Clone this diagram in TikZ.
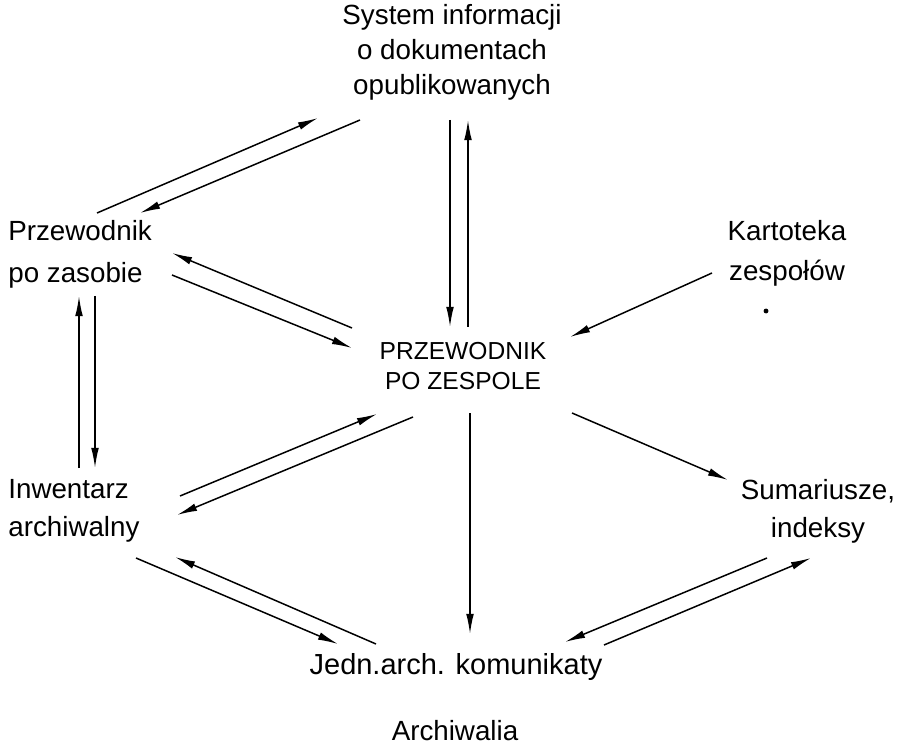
\documentclass[tikz,border=0pt]{standalone}
\usepackage{fontspec}
\setmainfont{Liberation Sans}
\usetikzlibrary{arrows.meta}

\begin{document}
\begin{tikzpicture}[x=0.02cm, y=-0.02cm,
  lbl/.style = {inner sep=0pt, align=center, font=\fontsize{15.8}{20}\selectfont},
  arr/.style = {line width=0.85pt, -{Latex[length=11.5pt,width=4.4pt]}}]
\useasboundingbox (0,0) rectangle (916,746);
% nodes
\node[lbl] (sys) at (452,52) {System informacji\\o dokumentach\\opublikowanych};
\node[lbl, align=left, anchor=west] (zas) at (8,254) {Przewodnik\\[3.8pt]po zasobie};
\node[lbl] (kart) at (787,253) {Kartoteka\\[2.7pt]zespołów};
\node[lbl, font=\fontsize{14}{17.6}\selectfont] (prz) at (463,366) {PRZEWODNIK\\PO ZESPOLE};
\node[lbl, align=left, anchor=west] (inw) at (8,511) {Inwentarz\\[1.5pt]archiwalny};
\node[lbl] (sum) at (818,511) {Sumariusze,\\[1.5pt]indeksy};
\node[lbl, font=\fontsize{16.5}{20}\selectfont] (jedn) at (456,667) {Jedn.arch. komunikaty};
\node[lbl] (arch) at (455,731) {Archiwalia};
\fill (766,311) circle (1.4pt);
% arrows
\draw[arr] ([shift={(-92,68)}]sys.center) -- ([shift={(132,-41)}]zas.west);
\draw[arr] ([shift={(89,-41)}]zas.west) -- ([shift={(-134,66)}]sys.center);
\draw[arr] ([shift={(-2,68)}]sys.center) -- ([shift={(-13,-39)}]prz.center);
\draw[arr] ([shift={(5,-39)}]prz.center) -- ([shift={(16,68)}]sys.center);
\draw[arr] ([shift={(-111,-38)}]prz.center) -- ([shift={(164,-1)}]zas.west);
\draw[arr] ([shift={(164,21)}]zas.west) -- ([shift={(-111,-18)}]prz.center);
\draw[arr] ([shift={(-75,20)}]kart.center) -- ([shift={(107,-29)}]prz.center);
\draw[arr] ([shift={(71,-43)}]inw.west) -- ([shift={(71,42)}]zas.west);
\draw[arr] ([shift={(87,42)}]zas.west) -- ([shift={(87,-43)}]inw.west);
\draw[arr] ([shift={(-50,51)}]prz.center) -- ([shift={(169,4)}]inw.west);
\draw[arr] ([shift={(172,-15)}]inw.west) -- ([shift={(-86,48)}]prz.center);
\draw[arr] ([shift={(7,47)}]prz.center) -- ([shift={(14,-33)}]jedn.center);
\draw[arr] ([shift={(109,47)}]prz.center) -- ([shift={(-90,-31)}]sum.center);
\draw[arr] ([shift={(128,47)}]inw.west) -- ([shift={(-118,-23)}]jedn.center);
\draw[arr] ([shift={(-80,-23)}]jedn.center) -- ([shift={(167,46)}]inw.west);
\draw[arr] ([shift={(-51,47)}]sum.center) -- ([shift={(109,-25)}]jedn.center);
\draw[arr] ([shift={(148,-22)}]jedn.center) -- ([shift={(-7,47)}]sum.center);
\end{tikzpicture}
\end{document}
